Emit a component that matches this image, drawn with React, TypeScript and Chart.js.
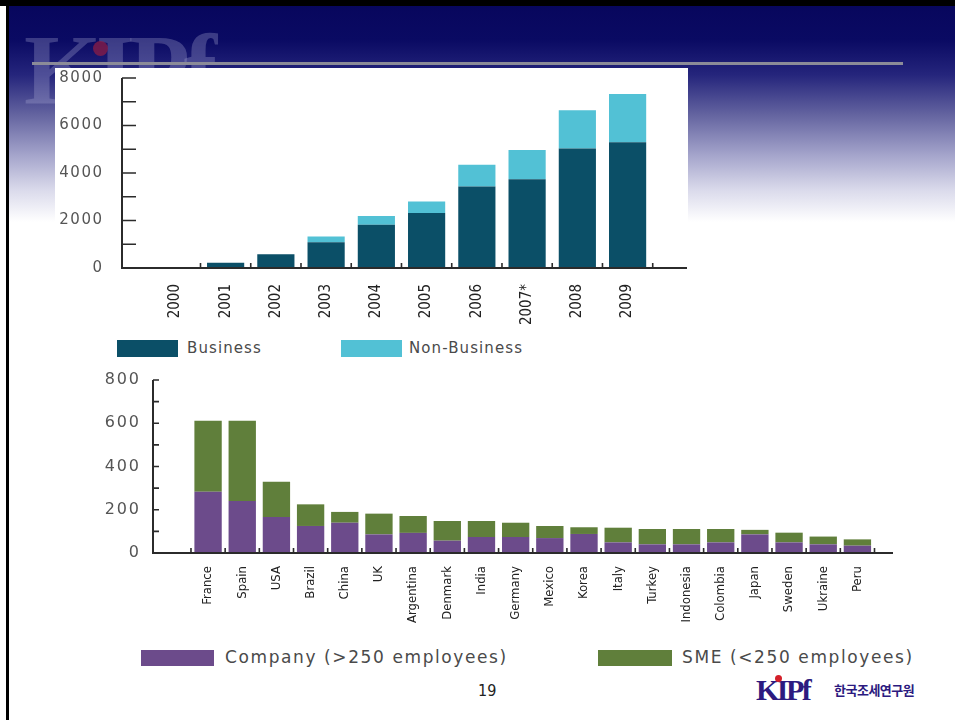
import React, { useEffect, useRef } from 'react';
import { Chart, registerables } from 'chart.js';

Chart.register(...registerables);

// ---------- Top chart data ----------
const years = ['2000', '2001', '2002', '2003', '2004', '2005', '2006', '2007*', '2008', '2009'];
const businessValues = [0, 220, 580, 1080, 1820, 2320, 3430, 3740, 5030, 5300];
const nonBusinessValues = [0, 0, 0, 250, 370, 480, 920, 1230, 1610, 2030];
const topYTicks = [0, 2000, 4000, 6000, 8000];

// ---------- Bottom chart data ----------
const countries = ['France', 'Spain', 'USA', 'Brazil', 'China', 'UK', 'Argentina', 'Denmark', 'India', 'Germany',
  'Mexico', 'Korea', 'Italy', 'Turkey', 'Indonesia', 'Colombia', 'Japan', 'Sweden', 'Ukraine', 'Peru'];
const companyValues = [283, 241, 167, 125, 140, 86, 93, 57, 74, 74, 69, 88, 49, 40, 40, 49, 86, 49, 40, 34];
const smeValues = [328, 370, 162, 100, 50, 96, 78, 91, 74, 66, 56, 31, 68, 71, 71, 62, 21, 45, 36, 29];
const bottomYTicks = [0, 200, 400, 600, 800];

const BUSINESS = '#0b4f67';
const NON_BUSINESS = '#52c1d5';
const COMPANY = '#6c4b8b';
const SME = '#607f3b';

type Series = { label: string; data: number[]; color: string };
type Cfg = {
  labels: string[];
  series: Series[];
  yTicks: number[];
  yMax: number;
  minorStep: number;
  xMin: number;
  xMax: number;
  xBounds: number[];
  yWidth: number;
  xHeight: number;
  padTop: number;
  padRight: number;
  yTickLen: number;
  xTickLen: number;
  barPct: number;
  xFontSize: number;
  yFontSize: number;
  yLetterSpacing: number;
  xPad: number;
  yPad: number;
};

function axesPlugin(c: Cfg) {
  return {
    id: 'drawnAxes',
    afterLayout(chart: any) {
      const ys = chart.scales.y;
      if (ys && !ys.__spaced) {
        const orig = ys.drawLabels.bind(ys);
        ys.drawLabels = (area: any) => {
          const ctx = chart.ctx;
          ctx.save();
          ctx.letterSpacing = `${c.yLetterSpacing}px`;
          ctx.translate(c.yLetterSpacing, 0);
          orig(area);
          ctx.restore();
        };
        ys.__spaced = true;
      }
    },
    afterDatasetsDraw(chart: any) {
      const { ctx, chartArea: a } = chart;
      const xs = chart.scales.x;
      const ys = chart.scales.y;
      ctx.save();
      ctx.strokeStyle = '#2b2b2b';
      ctx.lineWidth = 2;
      ctx.beginPath();
      ctx.moveTo(a.left, a.top);
      ctx.lineTo(a.left, a.bottom);
      ctx.lineTo(a.right, a.bottom);
      ctx.stroke();
      ctx.lineWidth = 1.6;
      ctx.beginPath();
      for (let v = 0; v <= c.yMax; v += c.minorStep) {
        const py = ys.getPixelForValue(v);
        ctx.moveTo(a.left, py);
        ctx.lineTo(a.left + c.yTickLen, py);
      }
      for (const b of c.xBounds) {
        const px = xs.getPixelForValue(b);
        ctx.moveTo(px, a.bottom);
        ctx.lineTo(px, a.bottom - c.xTickLen);
      }
      ctx.stroke();
      ctx.restore();
    },
  };
}

function StackedBars({ cfg, left, top, width, height }: { cfg: Cfg; left: number; top: number; width: number; height: number }) {
  const ref = useRef<HTMLCanvasElement | null>(null);
  useEffect(() => {
    if (!ref.current) return;
    const chart = new Chart(ref.current, {
      type: 'bar',
      data: {
        datasets: cfg.series.map((s) => ({
          label: s.label,
          data: s.data.map((v, i) => ({ x: i, y: v })),
          backgroundColor: s.color,
          borderWidth: 0,
          barPercentage: cfg.barPct,
          categoryPercentage: 1,
        })),
      } as any,
      options: {
        animation: false,
        responsive: false,
        maintainAspectRatio: false,
        devicePixelRatio: 1,
        layout: { padding: { top: 0, right: cfg.padRight, left: 0, bottom: 0 } },
        plugins: { legend: { display: false }, tooltip: { enabled: false } },
        scales: {
          x: {
            type: 'linear',
            min: cfg.xMin,
            max: cfg.xMax,
            stacked: true,
            grid: { display: false },
            border: { display: false },
            afterBuildTicks: (s: any) => {
              s.ticks = cfg.labels.map((_, i) => ({ value: i }));
            },
            ticks: {
              autoSkip: false,
              minRotation: 90,
              maxRotation: 90,
              padding: cfg.xPad,
              color: '#222222',
              font: { family: "'DejaVu Sans Condensed', 'DejaVu Sans', sans-serif", size: cfg.xFontSize },
              callback: (v: any) => cfg.labels[v] ?? '',
            },
            afterFit: (s: any) => {
              s.height = cfg.xHeight;
            },
          },
          y: {
            type: 'linear',
            min: 0,
            max: cfg.yMax,
            stacked: true,
            grid: { display: false },
            border: { display: false },
            afterBuildTicks: (s: any) => {
              s.ticks = cfg.yTicks.map((v) => ({ value: v }));
            },
            ticks: {
              padding: cfg.yPad,
              color: '#555555',
              font: { family: "'DejaVu Sans', sans-serif", size: cfg.yFontSize },
              callback: (v: any) => String(v),
            },
            afterFit: (s: any) => {
              s.width = cfg.yWidth;
              s.paddingTop = cfg.padTop;
              s.paddingBottom = 0;
            },
          },
        },
      } as any,
      plugins: [axesPlugin(cfg)],
    });
    return () => chart.destroy();
  }, [cfg]);
  return (
    <canvas
      ref={ref}
      width={width}
      height={height}
      style={{ position: 'absolute', left, top, width, height }}
    />
  );
}

const topCfg: Cfg = {
  labels: years,
  series: [
    { label: 'Business', data: businessValues, color: BUSINESS },
    { label: 'Non-Business', data: nonBusinessValues, color: NON_BUSINESS },
  ],
  yTicks: topYTicks,
  yMax: 8000,
  minorStep: 1000,
  xMin: -0.5,
  xMax: 9.62,
  xBounds: years.map((_, i) => i + 0.5),
  yWidth: 67,
  xHeight: 62,
  padTop: 10,
  padRight: 1,
  yTickLen: 14,
  xTickLen: 5,
  barPct: 0.74,
  xFontSize: 15,
  yFontSize: 15,
  yLetterSpacing: 1.5,
  xPad: 8,
  yPad: 12,
};

const bottomCfg: Cfg = {
  labels: countries,
  series: [
    { label: 'Company (>250 employees)', data: companyValues, color: COMPANY },
    { label: 'SME (<250 employees)', data: smeValues, color: SME },
  ],
  yTicks: bottomYTicks,
  yMax: 800,
  minorStep: 100,
  xMin: -1.07,
  xMax: 19.5,
  xBounds: [-0.5, ...countries.map((_, i) => i + 0.5)],
  yWidth: 53,
  xHeight: 87,
  padTop: 10,
  padRight: 7,
  yTickLen: 6,
  xTickLen: 5,
  barPct: 0.8,
  xFontSize: 13,
  yFontSize: 16,
  yLetterSpacing: 1.8,
  xPad: 5,
  yPad: 6,
};

function LegendItem({ left, top, w, h, color, label, textLeft, fontSize, spacing }: any) {
  return (
    <>
      <div style={{ position: 'absolute', left, top, width: w, height: h, background: color }} />
      <div
        style={{
          position: 'absolute',
          left: textLeft,
          top: top + h / 2 - fontSize * 0.62,
          fontFamily: "'DejaVu Sans', sans-serif",
          fontSize,
          letterSpacing: spacing,
          color: '#4a4a4a',
          whiteSpace: 'nowrap',
          lineHeight: 1.2,
        }}
      >
        {label}
      </div>
    </>
  );
}

export default function App() {
  return (
    <div style={{ position: 'absolute', left: 0, top: 0, width: 955, height: 720, overflow: 'hidden', background: '#ffffff' }}>
      {/* slide background gradient */}
      <div
        style={{
          position: 'absolute', left: 9, top: 0, width: 946, height: 720,
          background: 'linear-gradient(180deg, #07065c 0px, #0a0a63 40px, #25257c 75px, #6464a0 115px, #a4a4cb 155px, #dadaeb 190px, #ffffff 222px)',
        }}
      />
      <div style={{ position: 'absolute', left: 0, top: 0, width: 955, height: 6, background: '#000' }} />
      <div style={{ position: 'absolute', left: 6, top: 0, width: 3, height: 720, background: '#000' }} />

      {/* watermark logo */}
      <div
        style={{
          position: 'absolute', left: 24, top: 20, fontFamily: "'Liberation Serif', serif", fontWeight: 'bold',
          fontSize: 100, letterSpacing: -6, color: 'rgba(175,175,215,0.3)', lineHeight: 1,
        }}
      >
        KIPf
      </div>
      <div style={{ position: 'absolute', left: 93, top: 41, width: 15, height: 15, borderRadius: '50%', background: 'rgba(140,30,70,0.75)' }} />
      <div style={{ position: 'absolute', left: 32, top: 62, width: 871, height: 3, background: '#8b8b98' }} />

      {/* white panel behind the top chart */}
      <div style={{ position: 'absolute', left: 55, top: 68, width: 633, height: 262, background: '#ffffff' }} />

      <StackedBars cfg={topCfg} left={55} top={68} width={633} height={262} />
      <LegendItem left={117} top={340} w={61} h={17} color={BUSINESS} label={topCfg.series[0].label} textLeft={187} fontSize={15} spacing={1.1} />
      <LegendItem left={341} top={340} w={61} h={17} color={NON_BUSINESS} label={topCfg.series[1].label} textLeft={409} fontSize={15} spacing={1.1} />

      <StackedBars cfg={bottomCfg} left={100} top={370} width={800} height={270} />
      <LegendItem left={141} top={650} w={73} h={16} color={COMPANY} label={bottomCfg.series[0].label} textLeft={225} fontSize={17} spacing={1.6} />
      <LegendItem left={598} top={650} w={74} h={16} color={SME} label={bottomCfg.series[1].label} textLeft={682} fontSize={17} spacing={1.6} />

      {/* page number */}
      <div style={{ position: 'absolute', left: 478, top: 681, fontFamily: "'DejaVu Sans Condensed', sans-serif", fontSize: 16, color: '#222' }}>
        19
      </div>

      {/* KIPF logo bottom right */}
      <div style={{ position: 'absolute', left: 756, top: 675, fontFamily: "'Liberation Serif', serif", fontWeight: 'bold', fontSize: 30, letterSpacing: -2.5, color: '#2c1a80', lineHeight: 1 }}>
        KIPf
      </div>
      <div style={{ position: 'absolute', left: 775, top: 675, width: 7, height: 7, borderRadius: '50%', background: '#d4202a' }} />
      <div style={{ position: 'absolute', left: 834, top: 682, fontFamily: "'Noto Sans CJK KR', sans-serif", fontWeight: 'bold', fontSize: 13, letterSpacing: -0.5, color: '#2c1a80', lineHeight: 1.2 }}>
        한국조세연구원
      </div>
    </div>
  );
}
